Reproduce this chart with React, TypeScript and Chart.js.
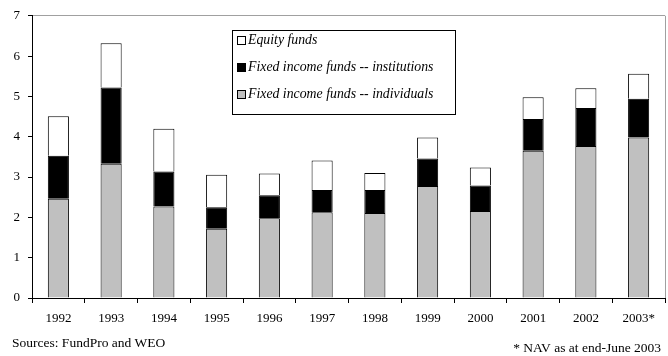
import React, { useEffect, useRef } from "react";
import { Chart, registerables } from "chart.js";

Chart.register(...registerables);

const categories = ["1992", "1993", "1994", "1995", "1996", "1997", "1998", "1999", "2000", "2001", "2002", "2003*"];
const individuals = [2.46, 3.33, 2.27, 1.72, 1.98, 2.13, 2.11, 2.78, 2.16, 3.65, 3.77, 3.98];
const institutionsTop = [3.53, 5.22, 3.14, 2.25, 2.55, 2.68, 2.68, 3.46, 2.79, 4.44, 4.71, 4.94];
const totalTop = [4.51, 6.32, 4.2, 3.06, 3.09, 3.41, 3.1, 3.98, 3.24, 4.98, 5.2, 5.56];
const institutions = institutionsTop.map((v, i) => +(v - individuals[i]).toFixed(2));
const equity = totalTop.map((v, i) => +(v - institutionsTop[i]).toFixed(2));
const yTicks = [0, 1, 2, 3, 4, 5, 6, 7];

const legendItems = [
  { label: "Equity funds", color: "#ffffff" },
  { label: "Fixed income funds -- institutions", color: "#000000" },
  { label: "Fixed income funds -- individuals", color: "#c0c0c0" },
];
const sourceNote = "Sources: FundPro and WEO";
const navNote = "* NAV as at end-June 2003";

const FONT = "'Liberation Serif', 'Times New Roman', serif";

export default function App() {
  const ref = useRef<HTMLCanvasElement>(null);
  useEffect(() => {
    if (!ref.current) return;
    const overlay = {
      id: "overlay",
      afterDraw(chart: any) {
        const ctx = chart.ctx;
        const a = chart.chartArea;
        ctx.save();
        // right border
        ctx.strokeStyle = "#a0a0a0";
        ctx.lineWidth = 1;
        ctx.beginPath();
        ctx.moveTo(Math.round(a.right) + 0.5, a.top);
        ctx.lineTo(Math.round(a.right) + 0.5, a.bottom);
        ctx.stroke();
        // legend box
        const lx = 232, ly = 30, lw = 223, lh = 84;
        ctx.fillStyle = "#fff";
        ctx.fillRect(lx, ly, lw, lh);
        ctx.strokeStyle = "#000";
        ctx.lineWidth = 1;
        ctx.strokeRect(lx + 0.5, ly + 0.5, lw, lh);
        ctx.font = "italic 13.8px " + FONT;
        ctx.textBaseline = "middle";
        ctx.textAlign = "left";
        const rows = [40, 67, 94];
        legendItems.forEach((it, i) => {
          const y = rows[i];
          ctx.fillStyle = it.color;
          ctx.fillRect(237, y - 4, 9, 9);
          ctx.strokeStyle = "#000";
          ctx.strokeRect(237.5, y - 3.5, 8, 8);
          ctx.fillStyle = "#000";
          ctx.fillText(it.label, 248, y);
        });
        // notes
        ctx.font = "13.5px " + FONT;
        ctx.fillText(sourceNote, 12, 343);
        ctx.textAlign = "right";
        ctx.fillText(navNote, 661, 348);
        ctx.restore();
      },
    };
    const chart = new Chart(ref.current, {
      type: "bar",
      data: {
        labels: categories,
        datasets: [
          { label: legendItems[2].label, data: individuals, backgroundColor: "#c0c0c0", borderColor: "#000", borderWidth: 1 },
          { label: legendItems[1].label, data: institutions, backgroundColor: "#000000", borderColor: "#000", borderWidth: 1 },
          { label: legendItems[0].label, data: equity, backgroundColor: "#ffffff", borderColor: "#000", borderWidth: 1 },
        ],
      },
      options: {
        animation: false,
        responsive: false,
        devicePixelRatio: 1,
        layout: { padding: { left: 0, right: 3, top: 15, bottom: 0 } },
        plugins: { legend: { display: false }, tooltip: { enabled: false } },
        datasets: { bar: { barPercentage: 0.4, categoryPercentage: 1 } },
        scales: {
          x: {
            stacked: true,
            afterFit(s: any) { s.height = 58; },
            grid: { drawOnChartArea: false, drawTicks: true, tickLength: 5, color: "#000", offset: true },
            border: { display: true, color: "#000" },
            ticks: { color: "#000", font: { family: FONT, size: 13 }, padding: 8, maxRotation: 0 },
          },
          y: {
            stacked: true,
            min: 0,
            max: 7,
            afterFit(s: any) { s.width = 32; },
            afterBuildTicks(s: any) { s.ticks = yTicks.map((v) => ({ value: v })); },
            grid: {
              drawOnChartArea: true,
              tickLength: 4,
              tickColor: "#000",
              color: (c: any) => (c.tick && c.tick.value === 7 ? "#a0a0a0" : "rgba(0,0,0,0)"),
            },
            border: { display: true, color: "#000" },
            ticks: { color: "#000", font: { family: FONT, size: 13 }, padding: 8 },
          },
        },
      },
      plugins: [overlay],
    });
    return () => chart.destroy();
  }, []);
  return (
    <div style={{ position: "fixed", left: 0, top: 0, width: 668, height: 356, background: "#fff" }}>
      <canvas ref={ref} width={668} height={356} style={{ width: 668, height: 356, display: "block" }} />
    </div>
  );
}
